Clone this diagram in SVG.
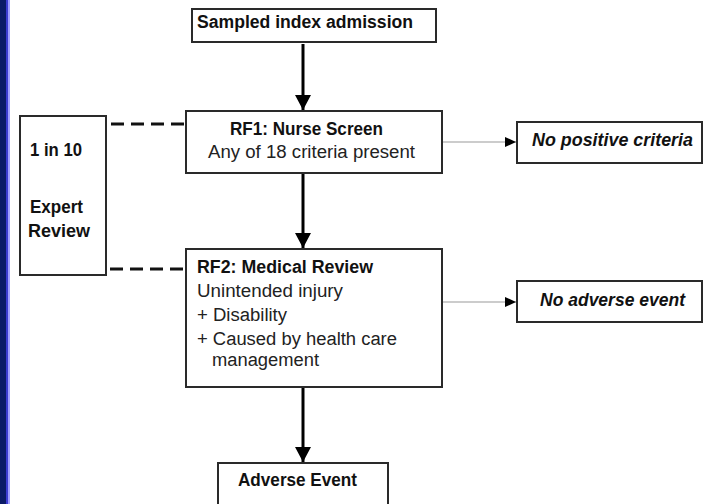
<svg xmlns="http://www.w3.org/2000/svg" width="704" height="504" viewBox="0 0 704 504">
<style>
.box{fill:#fff;stroke:#2a2a2a;stroke-width:2}
.b{font-family:"Liberation Sans",Arial,sans-serif;font-weight:bold;font-size:17.5px;fill:#111}
.r{font-family:"Liberation Sans",Arial,sans-serif;font-size:18px;fill:#222}
.bi{font-family:"Liberation Sans",Arial,sans-serif;font-weight:bold;font-style:italic;font-size:17.5px;fill:#111}
.thick{stroke:#000;stroke-width:3;fill:none}
.thin{stroke:#999;stroke-width:1.2;fill:none}
.dash{stroke:#111;stroke-width:3;stroke-dasharray:13 7;fill:none}
</style>
<defs>
<marker id="big" markerUnits="userSpaceOnUse" markerWidth="17" markerHeight="16" refX="15" refY="8" orient="auto" viewBox="0 0 15 16">
<path d="M0,0 L15,8 L0,16 z" fill="#000"/>
</marker>
<marker id="small" markerUnits="userSpaceOnUse" markerWidth="11" markerHeight="10" refX="11" refY="5" orient="auto" viewBox="0 0 11 10">
<path d="M0,0 L11,5 L0,10 z" fill="#000"/>
</marker>
</defs>
<rect x="0" y="0" width="704" height="504" fill="#fff"/>
<rect x="0" y="0" width="6" height="504" fill="#0a1a66"/>
<rect x="6" y="0" width="2" height="504" fill="#3c3cd0"/>
<rect x="8" y="0" width="2" height="504" fill="#a0a0ff"/>

<g id="connectors">
<line class="thick" x1="303" y1="44" x2="303" y2="110" marker-end="url(#big)"/>
<line class="thick" x1="303" y1="174" x2="303" y2="248" marker-end="url(#big)"/>
<line class="thick" x1="303" y1="388" x2="303" y2="462" marker-end="url(#big)"/>
<line class="thin" x1="443" y1="142" x2="516" y2="142" marker-end="url(#small)"/>
<line class="thin" x1="443" y1="302" x2="516" y2="302" marker-end="url(#small)"/>
<line class="dash" x1="111" y1="124" x2="186" y2="124"/>
<line class="dash" x1="110" y1="269" x2="186" y2="269"/>
</g>

<g id="sampled">
<rect class="box" x="192" y="9" width="244" height="33"/>
<text class="b" x="197" y="28" textLength="216" lengthAdjust="spacingAndGlyphs">Sampled index admission</text>
</g>

<g id="rf1">
<rect class="box" x="186" y="111" width="256" height="62"/>
<text class="b" x="230" y="135" textLength="153" lengthAdjust="spacingAndGlyphs">RF1: Nurse Screen</text>
<text class="r" x="208" y="158" textLength="207" lengthAdjust="spacingAndGlyphs">Any of 18 criteria present</text>
</g>

<g id="nopos">
<rect class="box" x="517" y="122" width="185" height="41"/>
<text class="bi" x="532" y="146" textLength="161" lengthAdjust="spacingAndGlyphs">No positive criteria</text>
</g>

<g id="expert">
<rect class="box" x="20" y="116" width="86" height="159"/>
<text class="b" x="30" y="156" style="font-size:18.5px" textLength="52" lengthAdjust="spacingAndGlyphs">1 in 10</text>
<text class="b" x="30" y="213" textLength="53" lengthAdjust="spacingAndGlyphs">Expert</text>
<text class="b" x="28" y="237" textLength="62" lengthAdjust="spacingAndGlyphs">Review</text>
</g>

<g id="rf2">
<rect class="box" x="186" y="249" width="256" height="138"/>
<text class="b" x="197" y="273" textLength="176" lengthAdjust="spacingAndGlyphs">RF2: Medical Review</text>
<text class="r" x="197" y="297" textLength="146" lengthAdjust="spacingAndGlyphs">Unintended injury</text>
<text class="r" x="197" y="321" textLength="90" lengthAdjust="spacingAndGlyphs">+ Disability</text>
<text class="r" x="197" y="345" textLength="200" lengthAdjust="spacingAndGlyphs">+ Caused by health care</text>
<text class="r" x="212" y="366" textLength="107" lengthAdjust="spacingAndGlyphs">management</text>
</g>

<g id="noadverse">
<rect class="box" x="517" y="281" width="185" height="41"/>
<text class="bi" x="540" y="306" textLength="145" lengthAdjust="spacingAndGlyphs">No adverse event</text>
</g>

<g id="adverse">
<rect class="box" x="218" y="463" width="170" height="50"/>
<text class="b" x="238" y="486" textLength="119" lengthAdjust="spacingAndGlyphs">Adverse Event</text>
</g>
</svg>
